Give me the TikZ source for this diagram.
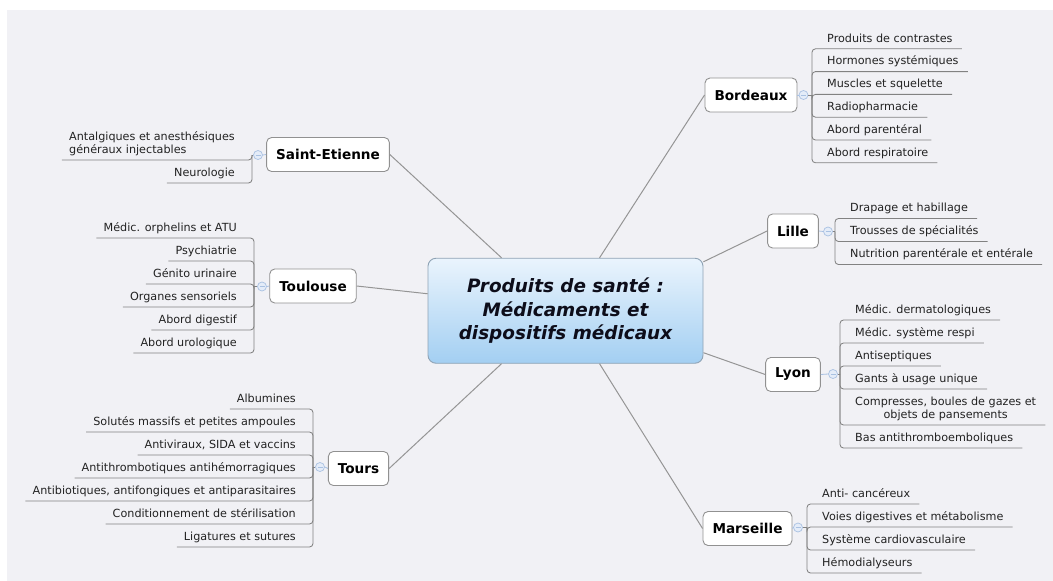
\documentclass[tikz,border=0pt]{standalone}
\usepackage{fontspec}
\setmainfont{DejaVu Sans}[ItalicFont={DejaVu Sans Oblique},BoldFont={DejaVu Sans Bold},BoldItalicFont={DejaVu Sans Bold Oblique}]
\usetikzlibrary{calc}
\definecolor{bg}{HTML}{F1F1F5}
\definecolor{leafline}{HTML}{828282}
\definecolor{mainline}{HTML}{959595}
\definecolor{leaftext}{HTML}{222222}
\definecolor{boxline}{HTML}{919191}
\definecolor{maintop}{HTML}{EAF4FD}
\definecolor{mainbot}{HTML}{A3CFF2}
\definecolor{mainborder}{HTML}{8FA3B5}
\definecolor{mkfill}{HTML}{E4ECF8}
\definecolor{mkdraw}{HTML}{A9C1E2}
\definecolor{maintext}{HTML}{0D0D1A}
\tikzset{
  leaf/.style={inner sep=0pt, text depth=6.6pt, font=\fontsize{11.2}{13}\selectfont, text=leaftext},
  rleaf/.style={leaf, anchor=south west},
  lleaf/.style={leaf, anchor=south east},
  branch/.style={draw=boxline, fill=white, rounded corners=5pt, line width=0.9pt, inner xsep=9.5pt, minimum height=34pt, font=\fontsize{13.6}{16}\selectfont\bfseries, text=black},
  mk/.style={circle, draw=mkdraw, fill=mkfill, minimum size=9pt, inner sep=0pt, line width=0.7pt,
    path picture={\draw[mkdraw, line width=0.7pt] ([xshift=-2.5pt]path picture bounding box.center) -- ([xshift=2.5pt]path picture bounding box.center);}},
  mkline/.style={draw=mkdraw, line width=0.8pt},
  bracket/.style={draw=leafline, line width=0.85pt, rounded corners=3.5pt},
  spoke/.style={draw=mainline, line width=1pt},
  mainbox/.style={draw=mainborder, line width=0.9pt, rounded corners=8pt, top color=maintop, bottom color=mainbot,
    minimum width=275pt, minimum height=105pt, align=center,
    font=\fontsize{18.4}{23.3}\selectfont\bfseries\itshape, text=maintext},
}
\begin{document}
\begin{tikzpicture}[x=1pt,y=-1pt]
\useasboundingbox (0,0) rectangle (1053,581);
\fill[bg] (7,10) rectangle (1053,581);

% central node
\node[mainbox] (main) at (565.5,310.75) {Produits de santé :\\Médicaments et\\dispositifs médicaux};

% branch nodes
\node[branch] (se) at (328,154.5) {Saint-Etienne};
\node[branch] (tl) at (313,286) {Toulouse};
\node[branch] (to) at (358.5,468.5) {Tours};
\node[branch] (bo) at (751,95) {Bordeaux};
\node[branch] (li) at (793,231) {Lille};
\node[branch] (ly) at (793,374.5) {Lyon};
\node[branch] (ma) at (747.5,528.5) {Marseille};

% spokes
\draw[spoke] (se.east) -- ([xshift=74pt]main.north west);
\draw[spoke] (tl.east) -- ([yshift=17pt]main.west);
\draw[spoke] (to.east) -- ([xshift=74pt]main.south west);
\draw[spoke] (bo.west) -- ([xshift=172pt]main.north west);
\draw[spoke] (li.west) -- ([yshift=-4pt]main.north east);
\draw[spoke] (ly.west) -- ([yshift=11pt]main.south east);
\draw[spoke] (ma.west) -- ([xshift=172pt]main.south west);

% collapse markers
\node[mk] (mSE) at (258,155) {};
\node[mk] (mTL) at (262,286.5) {};
\node[mk] (mTO) at (320,467) {};
\node[mk] (mBO) at (803.5,95) {};
\node[mk] (mLI) at (828,231.5) {};
\node[mk] (mLY) at (833,374) {};
\node[mk] (mMA) at (798,527.5) {};
\draw[mkline] (se.west) -- (mSE.east);
\draw[mkline] (tl.west) -- (mTL.east);
\draw[mkline] (to.west) -- (mTO.east);
\draw[mkline] (bo.east) -- (mBO.west);
\draw[mkline] (li.east) -- (mLI.west);
\draw[mkline] (ly.east) -- (mLY.west);
\draw[mkline] (ma.east) -- (mMA.west);

% bracket origins
\coordinate (kSE) at (252,155);
\coordinate (kTL) at (254,286.5);
\coordinate (kTO) at (313,467);
\coordinate (kBO) at (812,95);
\coordinate (kLI) at (835,231.5);
\coordinate (kLY) at (840,374);
\coordinate (kMA) at (807,527.5);
\draw[bracket] (mSE.west) -- (kSE);
\draw[bracket] (mTL.west) -- (kTL);
\draw[bracket] (mTO.west) -- (kTO);
\draw[bracket] (mBO.east) -- (kBO);
\draw[bracket] (mLI.east) -- (kLI);
\draw[bracket] (mLY.east) -- (kLY);
\draw[bracket] (mMA.east) -- (kMA);

% Bordeaux
\node[rleaf] (bo1) at (827,48.8) {Produits de contrastes};
\node[rleaf] (bo2) at (827,71.6) {Hormones systémiques};
\node[rleaf] (bo3) at (827,94.4) {Muscles et squelette};
\node[rleaf] (bo4) at (827,117.2) {Radiopharmacie};
\node[rleaf] (bo5) at (827,140) {Abord parentéral};
\node[rleaf] (bo6) at (827,162.8) {Abord respiratoire};
\foreach \i in {1,...,6} \draw[bracket] (kBO) |- ([xshift=9pt]bo\i.south east);

% Lille
\node[rleaf] (li1) at (850,218.5) {Drapage et habillage};
\node[rleaf] (li2) at (850,241.5) {Trousses de spécialités};
\node[rleaf] (li3) at (850,264.5) {Nutrition parentérale et entérale};
\foreach \i in {1,...,3} \draw[bracket] (kLI) |- ([xshift=9pt]li\i.south east);

% Lyon
\node[rleaf] (ly1) at (855,320) {Médic. dermatologiques};
\node[rleaf] (ly2) at (855,343) {Médic. système respi};
\node[rleaf] (ly3) at (855,366) {Antiseptiques};
\node[rleaf] (ly4) at (855,389) {Gants à usage unique};
\node[rleaf] (ly5) at (855,425) {\begin{tabular}[b]{@{}c@{}}Compresses, boules de gazes et\\objets de pansements\end{tabular}};
\node[rleaf] (ly6) at (855,448) {Bas antithromboemboliques};
\foreach \i in {1,...,6} \draw[bracket] (kLY) |- ([xshift=9pt]ly\i.south east);

% Marseille
\node[rleaf] (ma1) at (822,504) {Anti- cancéreux};
\node[rleaf] (ma2) at (822,527) {Voies digestives et métabolisme};
\node[rleaf] (ma3) at (822,550) {Système cardiovasculaire};
\node[rleaf] (ma4) at (822,573) {Hémodialyseurs};
\foreach \i in {1,...,4} \draw[bracket] (kMA) |- ([xshift=9pt]ma\i.south east);

% Saint-Etienne
\node[lleaf] (se1) at (235,160) {\begin{tabular}[b]{@{}l@{}}Antalgiques et anesthésiques\\généraux injectables\end{tabular}};
\node[lleaf] (se2) at (235,183) {Neurologie};
\foreach \i in {1,2} \draw[bracket] (kSE) |- ([xshift=-7pt]se\i.south west);

% Toulouse
\node[lleaf] (tl1) at (237,238) {Médic. orphelins et ATU};
\node[lleaf] (tl2) at (237,261) {Psychiatrie};
\node[lleaf] (tl3) at (237,284) {Génito urinaire};
\node[lleaf] (tl4) at (237,307) {Organes sensoriels};
\node[lleaf] (tl5) at (237,330) {Abord digestif\hspace{3pt}};
\node[lleaf] (tl6) at (237,353) {Abord urologique};
\foreach \i in {1,...,6} \draw[bracket] (kTL) |- ([xshift=-7pt]tl\i.south west);

% Tours
\node[lleaf] (to1) at (296,409) {Albumines};
\node[lleaf] (to2) at (296,432) {Solutés massifs et petites ampoules};
\node[lleaf] (to3) at (296,455) {Antiviraux, SIDA et vaccins};
\node[lleaf] (to4) at (296,478) {Antithrombotiques antihémorragiques};
\node[lleaf] (to5) at (296,501) {Antibiotiques, antifongiques et antiparasitaires};
\node[lleaf] (to6) at (296,524) {Conditionnement de stérilisation};
\node[lleaf] (to7) at (296,547) {Ligatures et sutures};
\foreach \i in {1,...,7} \draw[bracket] (kTO) |- ([xshift=-7pt]to\i.south west);
\end{tikzpicture}
\end{document}
